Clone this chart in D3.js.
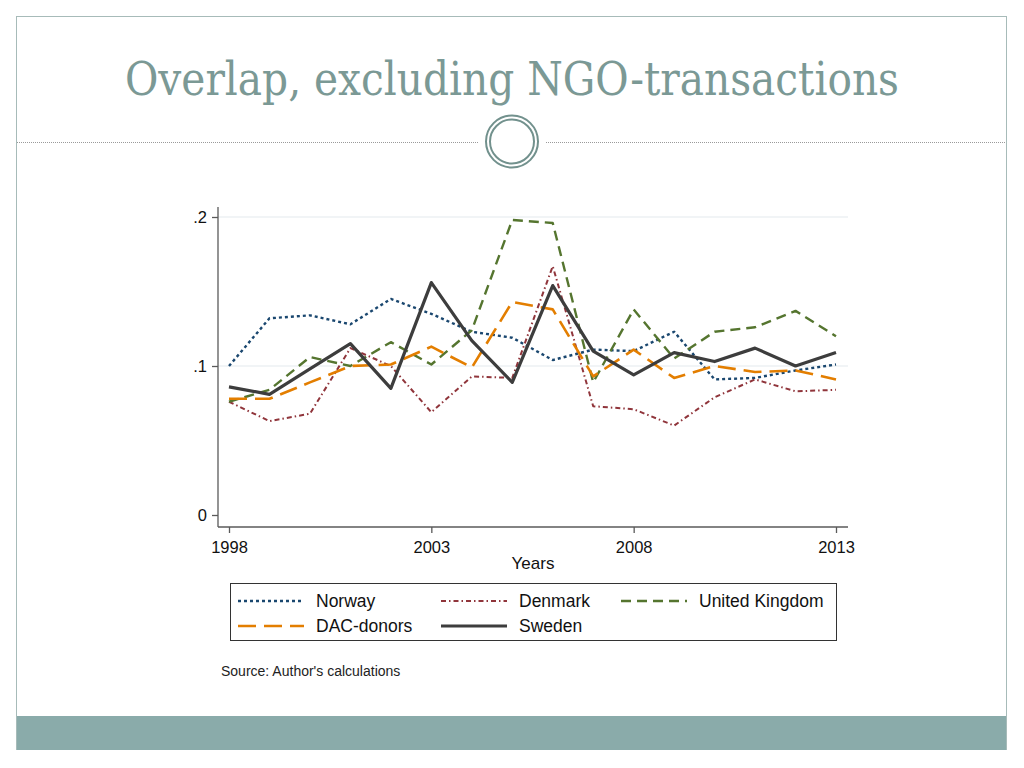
<!DOCTYPE html>
<html><head><meta charset="utf-8">
<script src="https://cdn.jsdelivr.net/npm/d3@7"></script>
<style>body{margin:0;background:#fff}svg{display:block}</style>
</head><body>
<svg id="c" width="1024" height="768"></svg>
<script>
const years = d3.range(1998, 2014);
const norway = [0.100,0.132,0.134,0.128,0.145,0.135,0.123,0.119,0.104,0.111,0.110,0.123,0.091,0.092,0.097,0.101];
const denmark = [0.076,0.063,0.068,0.112,0.100,0.069,0.093,0.092,0.167,0.073,0.071,0.060,0.079,0.091,0.083,0.084];
const uk = [0.076,0.084,0.106,0.100,0.116,0.101,0.124,0.198,0.196,0.089,0.138,0.105,0.123,0.126,0.137,0.120];
const dac = [0.078,0.078,0.089,0.100,0.101,0.113,0.099,0.143,0.138,0.093,0.111,0.092,0.100,0.096,0.097,0.091];
const sweden = [0.086,0.081,0.098,0.115,0.085,0.156,0.117,0.089,0.154,0.110,0.094,0.109,0.103,0.112,0.100,0.109];
const yTicks = [0, 0.1, 0.2];
const yTickLabels = ["0", ".1", ".2"];
const xTicks = [1998, 2003, 2008, 2013];
const seriesNames = ["Norway","Denmark","United Kingdom","DAC-donors","Sweden"];

const svg = d3.select("#c");
// slide frame
svg.append("rect").attr("x",16.5).attr("y",16.5).attr("width",990).attr("height",733)
  .attr("fill","#fff").attr("stroke","#a7bbb9").attr("stroke-width",1);
svg.append("rect").attr("x",17).attr("y",716).attr("width",989).attr("height",34).attr("fill","#8aabaa");
// title
svg.append("text").attr("x",512).attr("y",95).attr("text-anchor","middle")
  .attr("font-family","DejaVu Serif, serif").attr("font-size",46).attr("fill","#7b9995")
  .attr("textLength",774).attr("lengthAdjust","spacingAndGlyphs")
  .text("Overlap, excluding NGO-transactions");
// separator
svg.append("line").attr("x1",17).attr("x2",478).attr("y1",142.5).attr("y2",142.5)
  .attr("stroke","#9a9a9a").attr("stroke-dasharray","1,1");
svg.append("line").attr("x1",546).attr("x2",1006).attr("y1",142.5).attr("y2",142.5)
  .attr("stroke","#9a9a9a").attr("stroke-dasharray","1,1");
svg.append("circle").attr("cx",512).attr("cy",141.5).attr("r",26).attr("fill","#fff").attr("stroke","#72918d").attr("stroke-width",2);
svg.append("circle").attr("cx",512).attr("cy",141.5).attr("r",22).attr("fill","none").attr("stroke","#72918d").attr("stroke-width",2);

const x = d3.scaleLinear().domain([1998,2013]).range([229,836]);
const y = d3.scaleLinear().domain([0,0.2]).range([515,217]);

// gridlines
svg.append("g").selectAll("line").data(yTicks.filter(d=>d>0)).join("line")
  .attr("x1",218).attr("x2",848).attr("y1",d=>y(d)).attr("y2",d=>y(d))
  .attr("stroke","#e3eaee").attr("stroke-width",1.2);

// axes
const yAxis = d3.axisLeft(y).tickValues(yTicks).tickFormat((d,i)=>yTickLabels[i]).tickSize(6).tickSizeOuter(0);
const gy = svg.append("g").attr("transform","translate(218,0)").call(yAxis);
const xAxis = d3.axisBottom(x).tickValues(xTicks).tickFormat(d3.format("d")).tickSize(6).tickSizeOuter(0);
const gx = svg.append("g").attr("transform","translate(0,527)").call(xAxis);
gy.select(".domain").attr("d","M0,207V527");
gx.select(".domain").attr("d","M218,0H848");
[gx,gy].forEach(g=>{
  g.selectAll(".domain").attr("stroke","#5a5a5a").attr("stroke-width",1.3);
  g.selectAll(".tick line").attr("stroke","#5a5a5a").attr("stroke-width",1.3);
  g.selectAll(".tick text").attr("font-family","Liberation Sans, Arial, sans-serif").attr("font-size",16.5).attr("fill","#111");
});
gy.selectAll(".tick text").attr("x",-11).attr("dy","0.35em");
gx.selectAll(".tick text").attr("y",14);
svg.append("text").attr("x",533).attr("y",569).attr("text-anchor","middle")
  .attr("font-family","Liberation Sans, Arial, sans-serif").attr("font-size",17).attr("fill","#111").text("Years");

const styles = {
  "Norway": {color:"#1a476f", w:2.4, dash:"3,3"},
  "Denmark": {color:"#90353b", w:2, dash:"5,3,1.5,3"},
  "United Kingdom": {color:"#55752f", w:2.4, dash:"10,6"},
  "DAC-donors": {color:"#e37e00", w:2.6, dash:"18,8"},
  "Sweden": {color:"#3d3d3d", w:3.2, dash:null}
};
const dataMap = {"Norway":norway,"Denmark":denmark,"United Kingdom":uk,"DAC-donors":dac,"Sweden":sweden};
const line = d3.line().x((d,i)=>x(years[i])).y(d=>y(d));
["Norway","Denmark","United Kingdom","DAC-donors","Sweden"].forEach(n=>{
  const s = styles[n];
  svg.append("path").datum(dataMap[n]).attr("d",line).attr("fill","none")
    .attr("stroke",s.color).attr("stroke-width",s.w).attr("stroke-dasharray",s.dash)
    .attr("stroke-linejoin","round");
});

// legend
svg.append("rect").attr("x",230.5).attr("y",583.5).attr("width",606).attr("height",57)
  .attr("fill","#fff").attr("stroke","#333").attr("stroke-width",1);
const legPos = {
  "Norway":[238,601], "Denmark":[441,601], "United Kingdom":[621,601],
  "DAC-donors":[238,626], "Sweden":[441,626]
};
seriesNames.forEach(n=>{
  const s = styles[n], p = legPos[n];
  svg.append("line").attr("x1",p[0]).attr("x2",p[0]+66).attr("y1",p[1]).attr("y2",p[1])
    .attr("stroke",s.color).attr("stroke-width",s.w).attr("stroke-dasharray",s.dash);
  svg.append("text").attr("x",p[0]+78).attr("y",p[1]).attr("dy","0.35em")
    .attr("font-family","Liberation Sans, Arial, sans-serif").attr("font-size",17.5).attr("fill","#111").text(n);
});
svg.append("text").attr("x",221).attr("y",676)
  .attr("font-family","Liberation Sans, Arial, sans-serif").attr("font-size",14).attr("fill","#222")
  .text("Source: Author's calculations");
</script>
</body></html>
